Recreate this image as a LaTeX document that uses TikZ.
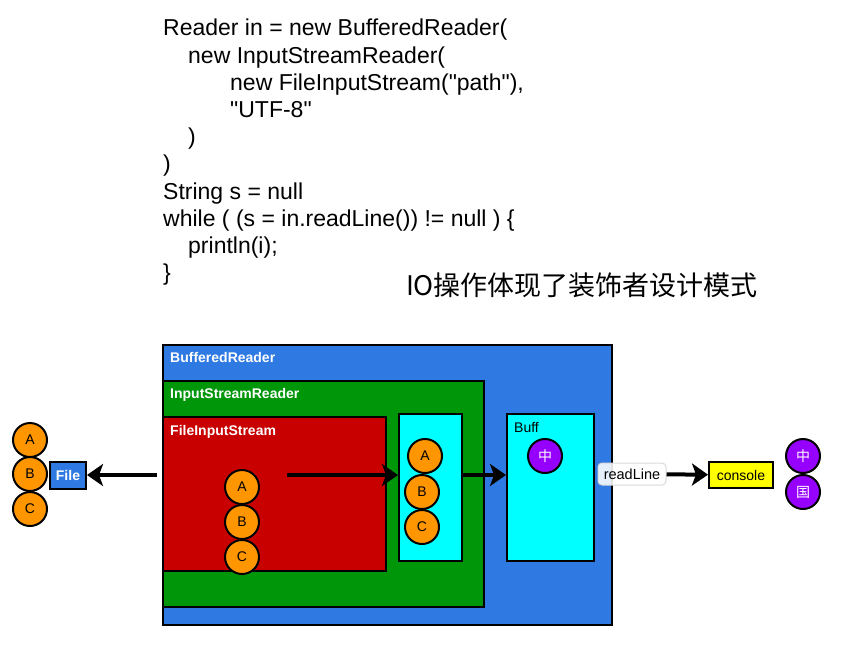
\documentclass[tikz,border=0pt]{standalone}
\usepackage{fontspec}
\setmainfont{Liberation Sans}
\newfontfamily\cjk{Noto Sans CJK SC}
\usetikzlibrary{arrows.meta,positioning}
\definecolor{bufblue}{RGB}{46,122,226}
\definecolor{isrgreen}{RGB}{0,150,10}
\definecolor{fisred}{RGB}{200,0,0}
\definecolor{buffcyan}{RGB}{0,255,255}
\definecolor{charorange}{RGB}{255,150,0}
\definecolor{charpurple}{RGB}{150,0,255}
\definecolor{conyellow}{RGB}{255,255,0}
\begin{document}
\begin{tikzpicture}[x=1pt,y=-1pt,
  box/.style={draw=black,line width=2pt,anchor=north west,inner sep=0pt},
  boxlabel/.style={inner sep=0pt,anchor=north west,font=\fontsize{14}{16}\selectfont\bfseries},
  char/.style={draw=black,line width=2pt,shape=circle,fill=charorange,minimum size=34pt,inner sep=0pt,font=\fontsize{14}{16}\selectfont},
  zh/.style={char,fill=charpurple,text=white,font=\cjk\fontsize{14}{16}\selectfont},
  arr/.style={line width=4pt,-{Stealth[length=16pt,width=22pt,inset=4pt]}}]
\useasboundingbox (0,0) rectangle (858,651);

% code
\path (163,19) node[anchor=north west,inner sep=0pt,align=left,font=\fontsize{23}{27.2}\selectfont] (code) {%
Reader in = new BufferedReader(\\
\hspace*{25pt}new InputStreamReader(\\
\hspace*{67pt}new FileInputStream(\textquotedbl path\textquotedbl),\\
\hspace*{67pt}\textquotedbl UTF-8\textquotedbl\\
\hspace*{25pt})\\
)\\
String s = null\\
while ( (s = in.readLine()) != null ) \{\\
\hspace*{25pt}println(i);\\
\}};
\path (582,285) node[font=\cjk\fontsize{27}{30}\selectfont] (title) {IO操作体现了装饰者设计模式};

% nested streams
\path (162,344) node[box,fill=bufblue,minimum width=449pt,minimum height=280pt] (buffered) {};
\path (162,380) node[box,fill=isrgreen,minimum width=321pt,minimum height=226pt] (isr) {};
\path (162,416) node[box,fill=fisred,minimum width=223pt,minimum height=154pt] (fis) {};
\path (398,413) node[box,fill=buffcyan,minimum width=63pt,minimum height=147pt] (chars) {};
\path (506,413) node[box,fill=buffcyan,minimum width=87pt,minimum height=147pt] (buff) {};

\node[boxlabel,text=white,below right=8pt and 8pt of buffered.north west] (bufferedlbl) {BufferedReader};
\node[boxlabel,text=white,below right=8pt and 8pt of isr.north west] (isrlbl) {InputStreamReader};
\node[boxlabel,text=white,below right=9pt and 8pt of fis.north west] (fislbl) {FileInputStream};
\node[boxlabel,font=\fontsize{14}{16}\selectfont,below right=9pt and 8pt of buff.north west] (bufflbl) {Buff};

% bytes
\path (242,487) node[char] (fisA) {A};
\path (242,522) node[char] (fisB) {B};
\path (242,557) node[char] (fisC) {C};
\path (425,456) node[char] (isrA) {A};
\path (422,492) node[char] (isrB) {B};
\path (422,527) node[char] (isrC) {C};
\path (30,440) node[char] (fileA) {A};
\path (30,474) node[char] (fileB) {B};
\path (30,509) node[char] (fileC) {C};
\path (545,456) node[zh] (buffzh) {中};
\path (803,456) node[zh] (outzh) {中};
\path (803,492) node[zh] (outguo) {国};

\path (68,475) node[draw=black,line width=2pt,fill=bufblue,text=white,minimum width=36pt,minimum height=27pt,inner sep=0pt,font=\fontsize{14}{16}\selectfont\bfseries] (file) {File};
\path (632,474) node[draw=black!15,line width=1pt,fill=white,fill opacity=0.88,text opacity=1,rounded corners=4pt,minimum width=68pt,minimum height=22pt,inner sep=0pt,font=\fontsize{14.5}{16}\selectfont] (readline) {readLine};
\path (741,475) node[draw=black,line width=2pt,fill=conyellow,minimum width=64pt,minimum height=26pt,inner sep=0pt,font=\fontsize{14}{16}\selectfont] (console) {console};

\coordinate (fisout) at (157,475);
\coordinate (fisin) at (287,475);

\path[arr] (fisout) edge (file);
\path[arr] (fisin) edge (fisin -| chars.west);
\path[arr] (chars.east |- fisin) edge (buff.west |- fisin);
\path[arr] (readline) edge (console);
\end{tikzpicture}
\end{document}
